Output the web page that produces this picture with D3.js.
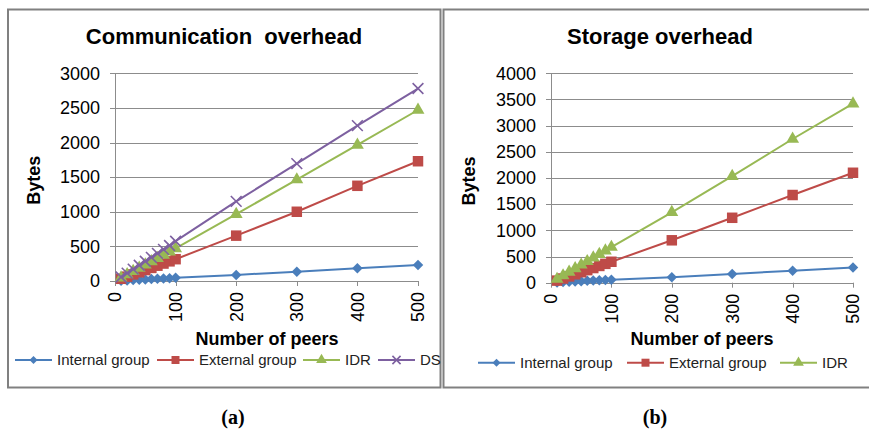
<!DOCTYPE html>
<html>
<head>
<meta charset="utf-8">
<script src="https://cdn.jsdelivr.net/npm/d3@7"></script>
<style>
body { margin: 0; background: #fff; }
svg { display: block; font-family: 'Liberation Sans', Arial, sans-serif; }
.grid line { stroke: #8c8c8c; stroke-width: 1; }
.tick-label { font-size: 18px; fill: #000; }
.title { font-size: 22px; font-weight: bold; white-space: pre; }
.axis-label { font-size: 18px; font-weight: bold; }
.legend-text { font-size: 15px; fill: #222; }
.caption { font-family: 'Liberation Serif', 'Times New Roman', serif; font-size: 20px; font-weight: bold; }
</style>
</head>
<body>
<svg width="869" height="432"></svg>
<script>
//Data.
var peers = [10, 20, 30, 40, 50, 60, 70, 80, 90, 100, 200, 300, 400, 500];
var commInternal = [5, 9, 14, 18, 23, 28, 32, 37, 41, 47, 88, 135, 183, 230];
var commExternal = [32, 63, 95, 126, 158, 189, 221, 252, 284, 315, 655, 1000, 1375, 1730];
var commIDR = [47, 94, 141, 188, 235, 282, 329, 376, 423, 470, 965, 1465, 1965, 2470];
var commDS = [57, 114, 171, 228, 285, 342, 399, 456, 513, 575, 1150, 1695, 2245, 2780];
var storInternal = [6, 12, 17, 23, 29, 35, 40, 46, 52, 58, 105, 168, 230, 290];
var storExternal = [40, 80, 120, 160, 200, 240, 280, 320, 360, 400, 810, 1240, 1675, 2100];
var storIDR = [68, 136, 204, 272, 340, 408, 476, 544, 612, 680, 1345, 2035, 2745, 3420];
var xTicks = [0, 100, 200, 300, 400, 500];
var commTicks = [0, 500, 1000, 1500, 2000, 2500, 3000];
var storTicks = [0, 500, 1000, 1500, 2000, 2500, 3000, 3500, 4000];
var seriesNames = ['Internal group', 'External group', 'IDR', 'DS'];

var svg = d3.select('svg');
var colors = ['#4a7ebb', '#be4b48', '#98b954', '#7d60a0'];
var shapes = ['diamond', 'square', 'triangle', 'x'];

//Draw one marker of the given shape at the origin of g.
function marker(g, shape, color, s) {
	if (shape === 'diamond') {
		g.append('path').attr('d', d3.symbol(d3.symbolSquare, s * s * 0.5)())
			.attr('transform', 'rotate(45)').attr('fill', color);
	} else if (shape === 'square') {
		g.append('path').attr('d', d3.symbol(d3.symbolSquare, s * s)()).attr('fill', color);
	} else if (shape === 'triangle') {
		g.append('path').attr('d', d3.symbol(d3.symbolTriangle, s * s * 0.5)()).attr('fill', color);
	} else {
		g.append('path').attr('d', d3.symbol(d3.symbolX, s * s * 0.7)())
			.attr('fill', 'none').attr('stroke', color).attr('stroke-width', 1.6);
	}
}

function panel(cfg) {
	var xScale = d3.scaleLinear().domain([0, 500]).range([cfg.x0, cfg.x1]);
	var yScale = d3.scaleLinear().domain([0, cfg.yMax]).range([cfg.y0, cfg.y1]);

	//Frame.
	svg.append('rect')
		.attr('x', cfg.frame[0]).attr('y', cfg.frame[1])
		.attr('width', cfg.frame[2]).attr('height', cfg.frame[3])
		.attr('fill', 'none').attr('stroke', '#808080').attr('stroke-width', 2);

	//Horizontal gridlines with outside tick stubs.
	svg.append('g').attr('class', 'grid')
		.selectAll('line').data(cfg.yTicks).enter().append('line')
		.attr('x1', cfg.x0 - 5).attr('x2', cfg.x1)
		.attr('y1', function(d) { return Math.round(yScale(d)) + 0.5; })
		.attr('y2', function(d) { return Math.round(yScale(d)) + 0.5; });
	svg.append('g').selectAll('text').data(cfg.yTicks).enter().append('text')
		.attr('class', 'tick-label')
		.attr('x', cfg.x0 - 15)
		.attr('y', function(d) { return yScale(d); })
		.attr('dy', '0.35em')
		.attr('text-anchor', 'end')
		.text(function(d) { return d; });

	//Vertical axis line and bottom ticks.
	svg.append('line')
		.attr('x1', cfg.x0 + 0.5).attr('x2', cfg.x0 + 0.5)
		.attr('y1', cfg.y1).attr('y2', cfg.y0)
		.attr('stroke', '#8c8c8c');
	svg.append('g').selectAll('line').data(xTicks).enter().append('line')
		.attr('x1', function(d) { return Math.round(xScale(d)) + 0.5; })
		.attr('x2', function(d) { return Math.round(xScale(d)) + 0.5; })
		.attr('y1', cfg.y0).attr('y2', cfg.y0 + 5)
		.attr('stroke', '#8c8c8c');
	svg.append('g').selectAll('text').data(xTicks).enter().append('text')
		.attr('class', 'tick-label')
		.attr('text-anchor', 'end')
		.attr('dy', '0.35em')
		.attr('transform', function(d) { return 'translate(' + xScale(d) + ',' + (cfg.y0 + 11) + ') rotate(-90)'; })
		.text(function(d) { return d; });

	//Series lines and markers.
	var line = d3.line()
		.x(function(d) { return xScale(d[0]); })
		.y(function(d) { return yScale(d[1]); });
	cfg.series.forEach(function(values, i) {
		var pts = peers.map(function(p, j) { return [p, values[j]]; });
		svg.append('path').datum(pts)
			.attr('d', line)
			.attr('fill', 'none')
			.attr('stroke', colors[i])
			.attr('stroke-width', 2);
		pts.forEach(function(p) {
			var g = svg.append('g').attr('transform', 'translate(' + xScale(p[0]) + ',' + yScale(p[1]) + ')');
			marker(g, shapes[i], colors[i], i === 2 ? 12 : 10.5);
		});
	});

	//Title and axis labels.
	svg.append('text').attr('class', 'title')
		.attr('x', cfg.titleX).attr('y', 44)
		.attr('text-anchor', 'middle')
		.text(cfg.title);
	svg.append('text').attr('class', 'axis-label')
		.attr('text-anchor', 'middle')
		.attr('transform', 'translate(' + cfg.yLabelX + ',' + ((cfg.y0 + cfg.y1) / 2 + 3) + ') rotate(-90)')
		.text('Bytes');
	svg.append('text').attr('class', 'axis-label')
		.attr('text-anchor', 'middle')
		.attr('x', cfg.xLabelX).attr('y', 345)
		.text('Number of peers');

	//Legend.
	cfg.legendX.forEach(function(lx, i) {
		var ly = cfg.legendY;
		svg.append('line')
			.attr('x1', lx).attr('x2', lx + 37)
			.attr('y1', ly).attr('y2', ly)
			.attr('stroke', colors[i]).attr('stroke-width', 2);
		var g = svg.append('g').attr('transform', 'translate(' + (lx + 18.5) + ',' + ly + ')');
		marker(g, shapes[i], colors[i], i === 2 ? 10 : 8);
		svg.append('text').attr('class', 'legend-text')
			.attr('x', lx + 42).attr('y', ly).attr('dy', '0.35em')
			.text(seriesNames[i]);
	});

	svg.append('text').attr('class', 'caption')
		.attr('x', cfg.captionX).attr('y', 424)
		.attr('text-anchor', 'middle')
		.text(cfg.caption);
}

panel({
	frame: [8, 9.5, 432.5, 378],
	x0: 115, x1: 418, y0: 281, y1: 73.3, yMax: 3000, yTicks: commTicks,
	series: [commInternal, commExternal, commIDR, commDS],
	title: 'Communication  overhead', titleX: 224,
	yLabelX: 40, xLabelX: 267,
	legendX: [15, 157, 303, 378], legendY: 360,
	caption: '(a)', captionX: 233
});
panel({
	frame: [443.5, 9.5, 440, 378],
	x0: 551, x1: 853, y0: 282.7, y1: 73.3, yMax: 4000, yTicks: storTicks,
	series: [storInternal, storExternal, storIDR],
	title: 'Storage overhead', titleX: 660,
	yLabelX: 475, xLabelX: 702,
	legendX: [478, 627, 780], legendY: 362.7,
	caption: '(b)', captionX: 655
});
</script>
</body>
</html>
